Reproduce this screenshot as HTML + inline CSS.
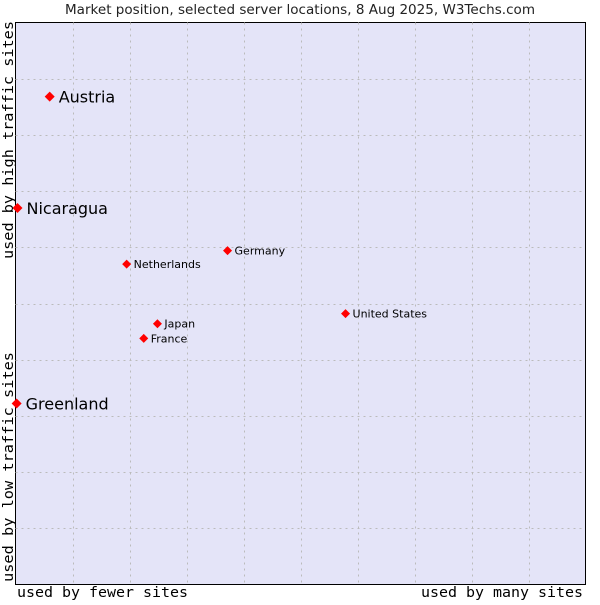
<!DOCTYPE html>
<html><head><meta charset="utf-8"><style>
body{margin:0;background:#fff;width:600px;height:600px;overflow:hidden}
svg text{font-family:"DejaVu Sans","Liberation Sans",sans-serif}
.mono{font-family:"DejaVu Sans Mono","Liberation Mono",monospace}
</style></head><body>
<svg id="chart" width="600" height="600">
<text x="65" y="14" textLength="470" lengthAdjust="spacingAndGlyphs" font-size="13" fill="#222">Market position, selected server locations, 8 Aug 2025, W3Techs.com</text>
<rect x="15.5" y="22.5" width="570" height="562" fill="#e4e4f8" stroke="#000"/>
<g id="grid"></g>
<g id="marks"></g>
<text class="mono" x="17" y="597" font-size="14" textLength="171" lengthAdjust="spacingAndGlyphs" fill="#000">used by fewer sites</text>
<text class="mono" x="421" y="597" font-size="14" textLength="162" lengthAdjust="spacingAndGlyphs" fill="#000">used by many sites</text>
<text class="mono" transform="translate(13,582) rotate(-90)" font-size="14" textLength="230" lengthAdjust="spacingAndGlyphs" fill="#000">used by low traffic sites</text>
<text class="mono" transform="translate(13,259) rotate(-90)" font-size="14" textLength="238" lengthAdjust="spacingAndGlyphs" fill="#000">used by high traffic sites</text>
</svg>
<script>
const names=["Austria","Nicaragua","Greenland","Netherlands","Germany","United States","Japan","France"];
const xVals=[6,0.35,0.2,19.5,37.2,57.9,24.9,22.5];
const yVals=[86.8,67,32.2,57,59.4,48.2,46.4,43.8];
const big=[true,true,true,false,false,false,false,false];
const X0=15.5,X1=585.5,Y0=584.5,Y1=22.5;
const sx=v=>X0+v/100*(X1-X0), sy=v=>Y0-v/100*(Y0-Y1);
const ns="http://www.w3.org/2000/svg";
const grid=document.getElementById('grid'), marks=document.getElementById('marks');
for(let i=1;i<10;i++){
 let l=document.createElementNS(ns,'line');
 l.setAttribute('x1',Math.round(sx(i*10))+0.5);l.setAttribute('x2',Math.round(sx(i*10))+0.5);
 l.setAttribute('y1',Y1);l.setAttribute('y2',Y0);
 l.setAttribute('stroke','#bbb');l.setAttribute('stroke-dasharray','2,4');
 
 
 grid.appendChild(l);
 let h=document.createElementNS(ns,'line');
 h.setAttribute('y1',Math.round(sy(i*10))+0.5);h.setAttribute('y2',Math.round(sy(i*10))+0.5);
 h.setAttribute('x1',X0);h.setAttribute('x2',X1);
 h.setAttribute('stroke','#bbb');h.setAttribute('stroke-dasharray','2,4');
 
 
 grid.appendChild(h);
}
names.forEach((n,i)=>{
 const x=sx(xVals[i]),y=sy(yVals[i]),r=big[i]?5:4.5;
 const p=document.createElementNS(ns,'polygon');
 p.setAttribute('points',`${x},${y-r} ${x+r},${y} ${x},${y+r} ${x-r},${y}`);
 p.setAttribute('fill','#f00');
 
 
 marks.appendChild(p);
 const t=document.createElementNS(ns,'text');
 t.setAttribute('x',x+(big[i]?9:7));t.setAttribute('y',y+(big[i]?6:4));
 t.setAttribute('font-size',big[i]?16:11);t.setAttribute('fill','#000');
 t.textContent=n;
 
 
 marks.appendChild(t);
});
</script>
</body></html>
